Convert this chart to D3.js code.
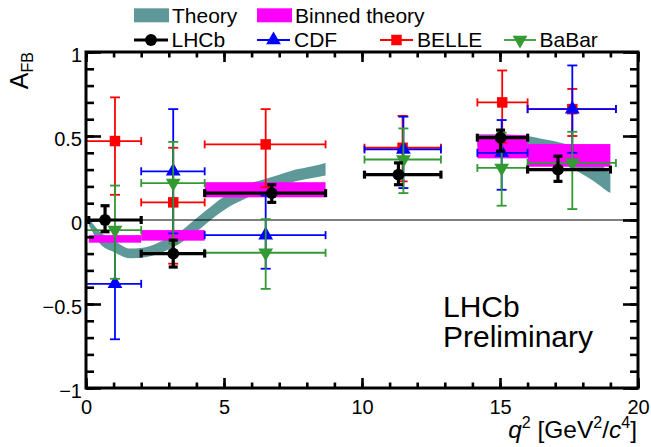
<!DOCTYPE html>
<html>
<head>
<meta charset="utf-8">
<script src="https://cdn.jsdelivr.net/npm/d3@7"></script>
<style>
  body { margin: 0; background: #fff; }
  svg { display: block; font-family: "Liberation Sans", Arial, sans-serif; }
</style>
</head>
<body>
<svg id="chart" width="651" height="447"></svg>
<script>
// q2 bins
const lhcbBinLo = [0.1, 2.0, 4.3, 10.09, 14.18, 16.0];
const lhcbBinHi = [2.0, 4.3, 8.68, 12.86, 16.0, 19.0];
const otherBinLo = [0.0, 2.0, 4.3, 10.09, 14.18, 16.0];
const otherBinHi = [2.0, 4.3, 8.68, 12.86, 16.0, 19.2];

// LHCb
const lhcbQ = [0.69, 3.16, 6.73, 11.32, 15.02, 17.1];
const lhcbA = [0.00, -0.20, 0.16, 0.27, 0.49, 0.30];
const lhcbLow = [-0.07, -0.28, 0.105, 0.21, 0.41, 0.23];
const lhcbHigh = [0.085, -0.12, 0.21, 0.34, 0.535, 0.38];

// CDF
const cdfQ = [1.05, 3.16, 6.51, 11.5, 15.06, 17.62];
const cdfA = [-0.38, 0.29, -0.09, 0.42, 0.40, 0.66];
const cdfLow = [-0.71, -0.08, -0.29, 0.19, 0.18, 0.40];
const cdfHigh = [-0.05, 0.66, 0.145, 0.615, 0.595, 0.92];

// BELLE
const belleQ = [1.05, 3.16, 6.51, 11.47, 15.08, 17.62];
const belleA = [0.47, 0.105, 0.45, 0.43, 0.70, 0.66];
const belleLow = [0.15, -0.26, 0.195, 0.23, 0.46, 0.50];
const belleHigh = [0.73, 0.43, 0.66, 0.62, 0.89, 0.78];

// BaBar
const babarQ = [1.05, 3.16, 6.51, 11.5, 15.06, 17.62];
const babarA = [-0.06, 0.22, -0.195, 0.36, 0.31, 0.34];
const babarLow = [-0.35, -0.14, -0.41, 0.16, 0.085, 0.065];
const babarHigh = [0.205, 0.465, 0.005, 0.545, 0.52, 0.525];

// binned theory
const binnedLo = [0.1, 2.0, 4.3, 14.18, 16.0];
const binnedHi = [2.0, 4.3, 8.68, 16.0, 19.0];
const binnedMin = [-0.135, -0.123, 0.135, 0.367, 0.317];
const binnedMax = [-0.09, -0.06, 0.225, 0.506, 0.452];

// theory band
const bandLowQ = [0.1, 0.5, 1.0, 1.6, 2.2, 2.8, 3.4, 4.0, 4.6, 5.2, 5.8, 6.4, 7.0, 7.6, 8.2, 8.68];
const bandLowMin = [-0.03, -0.14, -0.19, -0.228, -0.22, -0.19, -0.14, -0.07, 0.01, 0.08, 0.13, 0.17, 0.20, 0.23, 0.25, 0.265];
const bandLowMax = [0.01, -0.07, -0.12, -0.17, -0.16, -0.12, -0.07, 0.01, 0.09, 0.16, 0.21, 0.24, 0.27, 0.30, 0.32, 0.34];
const bandHighQ = [14.18, 15.0, 16.0, 16.6, 17.2, 17.8, 18.4, 18.9, 19.0];
const bandHighMin = [0.44, 0.43, 0.41, 0.38, 0.34, 0.29, 0.23, 0.17, 0.16];
const bandHighMax = [0.51, 0.51, 0.50, 0.48, 0.46, 0.43, 0.37, 0.29, 0.27];

const xTicksMajor = [0, 5, 10, 15, 20];
const yTicksMajor = [-1, -0.5, 0, 0.5, 1];

const svg = d3.select('#chart');
const x = d3.scaleLinear().domain([0, 20]).range([86, 638]);
const y = d3.scaleLinear().domain([-1, 1]).range([388, 52]);

const teal = '#5f9898';
const magenta = '#ff00ff';

// theory band
function drawBand(qs, mins, maxs) {
  const pts = qs.map((q, i) => ({ q: q, lo: mins[i], hi: maxs[i] }));
  const area = d3.area()
    .x(d => x(d.q))
    .y0(d => y(d.lo))
    .y1(d => y(d.hi))
    .curve(d3.curveMonotoneX);
  svg.append('path').attr('d', area(pts)).attr('fill', teal);
}
drawBand(bandLowQ, bandLowMin, bandLowMax);
drawBand(bandHighQ, bandHighMin, bandHighMax);

// binned theory
svg.append('g').selectAll('rect')
  .data(binnedLo.map((lo, i) => ({ lo: lo, hi: binnedHi[i], min: binnedMin[i], max: binnedMax[i] })))
  .enter().append('rect')
  .attr('x', d => x(d.lo))
  .attr('width', d => x(d.hi) - x(d.lo))
  .attr('y', d => y(d.max))
  .attr('height', d => y(d.min) - y(d.max))
  .attr('fill', magenta);

// zero line
svg.append('line')
  .attr('x1', x(0)).attr('x2', x(20))
  .attr('y1', y(0)).attr('y2', y(0))
  .attr('stroke', '#000').attr('stroke-width', 1);

const series = [
  { name: 'BELLE', color: '#ff0000', symbol: d3.symbolSquare, size: 110, rot: 0, lw: 1.8,
    q: belleQ, a: belleA, lo: belleLow, hi: belleHigh, xlo: otherBinLo, xhi: otherBinHi },
  { name: 'CDF', color: '#0000ff', symbol: d3.symbolTriangle, size: 95, rot: 0, lw: 1.8,
    q: cdfQ, a: cdfA, lo: cdfLow, hi: cdfHigh, xlo: otherBinLo, xhi: otherBinHi },
  { name: 'BaBar', color: '#339933', symbol: d3.symbolTriangle, size: 95, rot: 180, lw: 1.8,
    q: babarQ, a: babarA, lo: babarLow, hi: babarHigh, xlo: otherBinLo, xhi: otherBinHi },
  { name: 'LHCb', color: '#000000', symbol: d3.symbolCircle, size: 110, rot: 0, lw: 3.2,
    q: lhcbQ, a: lhcbA, lo: lhcbLow, hi: lhcbHigh, xlo: lhcbBinLo, xhi: lhcbBinHi }
];

series.forEach(s => {
  const g = svg.append('g').attr('stroke', s.color).attr('stroke-width', s.lw).attr('fill', 'none');
  const capW = s.name === 'LHCb' ? 4.5 : 5;
  const capH = 4;
  s.q.forEach((q, i) => {
    const cx = x(q), cy = y(s.a[i]);
    const x0 = x(s.xlo[i]), x1 = x(s.xhi[i]);
    const y0 = y(s.lo[i]), y1 = y(s.hi[i]);
    g.append('line').attr('x1', x0).attr('x2', x1).attr('y1', cy).attr('y2', cy);
    g.append('line').attr('x1', cx).attr('x2', cx).attr('y1', y0).attr('y2', y1);
    g.append('line').attr('x1', x0).attr('x2', x0).attr('y1', cy - capH).attr('y2', cy + capH);
    g.append('line').attr('x1', x1).attr('x2', x1).attr('y1', cy - capH).attr('y2', cy + capH);
    g.append('line').attr('x1', cx - capW).attr('x2', cx + capW).attr('y1', y0).attr('y2', y0);
    g.append('line').attr('x1', cx - capW).attr('x2', cx + capW).attr('y1', y1).attr('y2', y1);
  });
  svg.append('g').selectAll('path')
    .data(s.q.map((q, i) => [q, s.a[i]]))
    .enter().append('path')
    .attr('d', d3.symbol().type(s.symbol).size(s.size))
    .attr('transform', d => `translate(${x(d[0])},${y(d[1])}) rotate(${s.rot})`)
    .attr('fill', s.color);
});

// axes
function tickAxis(axis, pos, values, size, labels) {
  const g = svg.append('g').attr('transform', pos)
    .call(axis.tickValues(values).tickSize(size).tickSizeOuter(0)
      .tickFormat(labels ? d3.format('') : ''));
  g.select('.domain').remove();
  g.selectAll('line').attr('stroke', '#000').attr('stroke-width', 2.6);
  g.selectAll('text').attr('font-size', 20).attr('fill', '#000');
  return g;
}
const xMinor = d3.range(0, 21, 1);
const yMinor = d3.range(-10, 11, 1).map(v => v / 10);

tickAxis(d3.axisBottom(x), `translate(0,${y(-1)})`, xMinor, -5.5, false);
tickAxis(d3.axisBottom(x).tickPadding(12), `translate(0,${y(-1)})`, xTicksMajor, -10, true);
tickAxis(d3.axisTop(x), `translate(0,${y(1)})`, xMinor, -5.5, false);
tickAxis(d3.axisTop(x), `translate(0,${y(1)})`, xTicksMajor, -10, false);
tickAxis(d3.axisLeft(y), `translate(${x(0)},0)`, yMinor, -8, false);
const yl = tickAxis(d3.axisLeft(y).tickPadding(4), `translate(${x(0)},0)`, yTicksMajor, -15, true);
yl.selectAll('text').attr('dy', '0.45em');
tickAxis(d3.axisRight(y), `translate(${x(20)},0)`, yMinor, -8, false);
tickAxis(d3.axisRight(y), `translate(${x(20)},0)`, yTicksMajor, -15, false);

// frame
svg.append('rect')
  .attr('x', x(0)).attr('y', y(1))
  .attr('width', x(20) - x(0)).attr('height', y(-1) - y(1))
  .attr('fill', 'none').attr('stroke', '#000').attr('stroke-width', 3);

// axis titles
const yTitle = svg.append('text')
  .attr('transform', 'translate(28,52) rotate(-90)')
  .attr('text-anchor', 'end');
yTitle.append('tspan').attr('font-size', 25).text('A');
yTitle.append('tspan').attr('font-size', 16).attr('dy', 5).text('FB');

const xTitle = svg.append('text')
  .attr('x', 637).attr('y', 438)
  .attr('text-anchor', 'end').attr('font-size', 24.5);
xTitle.append('tspan').attr('font-style', 'italic').text('q');
xTitle.append('tspan').attr('font-size', 16).attr('dy', -10).text('2');
xTitle.append('tspan').attr('dy', 10).text(' [GeV');
xTitle.append('tspan').attr('font-size', 16).attr('dy', -10).text('2');
xTitle.append('tspan').attr('dy', 10).text('/');
xTitle.append('tspan').attr('font-style', 'italic').text('c');
xTitle.append('tspan').attr('font-size', 16).attr('dy', -10).text('4');
xTitle.append('tspan').attr('dy', 10).text(']');

// LHCb label
svg.append('text').attr('x', 443).attr('y', 316.7).attr('font-size', 30).text('LHCb');
svg.append('text').attr('x', 443).attr('y', 346.7).attr('font-size', 30).text('Preliminary');

// legend
const legend = svg.append('g').attr('font-size', 21);
legend.append('rect').attr('x', 134).attr('y', 8.3).attr('width', 35).attr('height', 14).attr('fill', teal);
legend.append('text').attr('x', 172).attr('y', 22.7).text('Theory');
legend.append('rect').attr('x', 257).attr('y', 8.3).attr('width', 35).attr('height', 14).attr('fill', magenta);
legend.append('text').attr('x', 295).attr('y', 22.7).text('Binned theory');

const legendRow = [
  { s: series[3], x0: 134, x1: 168, tx: 171.5 },
  { s: series[1], x0: 257, x1: 290, tx: 294 },
  { s: series[0], x0: 380, x1: 413, tx: 417 },
  { s: series[2], x0: 504, x1: 536, tx: 539.5 }
];
legendRow.forEach(r => {
  legend.append('line').attr('x1', r.x0).attr('x2', r.x1).attr('y1', 40).attr('y2', 40)
    .attr('stroke', r.s.color).attr('stroke-width', r.s.lw);
  legend.append('path')
    .attr('d', d3.symbol().type(r.s.symbol).size(r.s.size))
    .attr('transform', `translate(${(r.x0 + r.x1) / 2},40) rotate(${r.s.rot})`)
    .attr('fill', r.s.color);
  legend.append('text').attr('x', r.tx).attr('y', 47).text(r.s.name);
});
</script>
</body>
</html>
